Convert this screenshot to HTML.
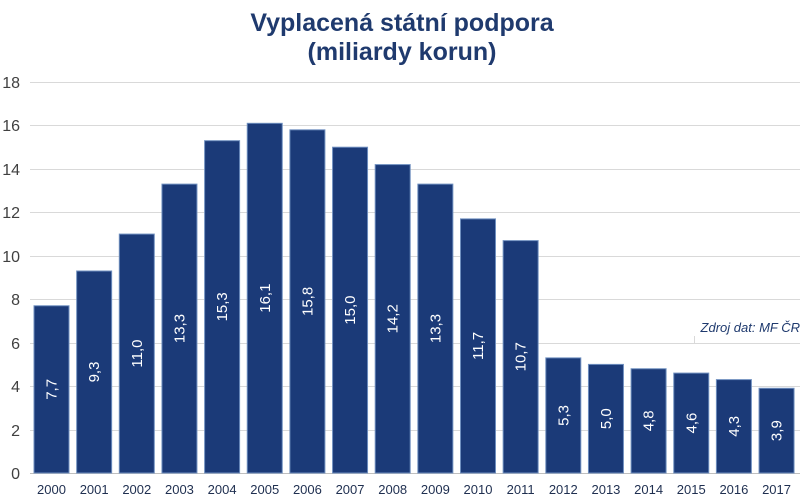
<!DOCTYPE html>
<html><head><meta charset="utf-8"><style>body{margin:0;background:#fff}svg{display:block;font-family:"Liberation Sans",sans-serif}</style></head><body>
<svg width="804" height="499" xmlns="http://www.w3.org/2000/svg">
<text x="402" y="31" text-anchor="middle" font-size="25" font-weight="bold" fill="#1f3a6e">Vyplacená státní podpora</text>
<text x="402" y="60" text-anchor="middle" font-size="25" font-weight="bold" fill="#1f3a6e">(miliardy korun)</text>
<g stroke="#d9d9d9" stroke-width="1">
<line x1="30" x2="800" y1="82.5" y2="82.5"/><line x1="30" x2="800" y1="125.5" y2="125.5"/><line x1="30" x2="800" y1="169.5" y2="169.5"/><line x1="30" x2="800" y1="212.5" y2="212.5"/><line x1="30" x2="800" y1="256.5" y2="256.5"/><line x1="30" x2="800" y1="299.5" y2="299.5"/><line x1="30" x2="800" y1="343.5" y2="343.5"/><line x1="30" x2="800" y1="386.5" y2="386.5"/><line x1="30" x2="800" y1="430.5" y2="430.5"/>
<line x1="694.5" x2="694.5" y1="336" y2="343"/>
</g>
<line x1="30" x2="800" y1="473.5" y2="473.5" stroke="#bfbfbf"/>
<g font-size="16" fill="#404040" text-anchor="end">
<text x="20" y="88">18</text><text x="20" y="131">16</text><text x="20" y="175">14</text><text x="20" y="218">12</text><text x="20" y="262">10</text><text x="20" y="305">8</text><text x="20" y="349">6</text><text x="20" y="392">4</text><text x="20" y="436">2</text><text x="20" y="479">0</text>
</g>
<text x="800" y="332" text-anchor="end" font-size="13" font-style="italic" fill="#1f3a6e">Zdroj dat: MF ČR</text>
<g fill="#1b3a78" stroke="#6f8fbf" stroke-width="1">
<rect x="34" y="305.76" width="35" height="167.24"/>
<rect x="76.65" y="271" width="35" height="202"/>
<rect x="119.3" y="234.08" width="35" height="238.92"/>
<rect x="161.95" y="184.12" width="35" height="288.88"/>
<rect x="204.6" y="140.68" width="35" height="332.32"/>
<rect x="247.25" y="123.31" width="35" height="349.69"/>
<rect x="289.9" y="129.82" width="35" height="343.18"/>
<rect x="332.55" y="147.2" width="35" height="325.8"/>
<rect x="375.2" y="164.58" width="35" height="308.42"/>
<rect x="417.85" y="184.12" width="35" height="288.88"/>
<rect x="460.5" y="218.88" width="35" height="254.12"/>
<rect x="503.15" y="240.6" width="35" height="232.4"/>
<rect x="545.8" y="357.88" width="35" height="115.12"/>
<rect x="588.45" y="364.4" width="35" height="108.6"/>
<rect x="631.1" y="368.74" width="35" height="104.26"/>
<rect x="673.75" y="373.09" width="35" height="99.91"/>
<rect x="716.4" y="379.6" width="35" height="93.4"/>
<rect x="759.05" y="388.29" width="35" height="84.71"/>
</g>
<g font-size="15" fill="#fff" text-anchor="middle">
<text transform="translate(56.5,389.38) rotate(-90)">7,7</text>
<text transform="translate(99.15,372) rotate(-90)">9,3</text>
<text transform="translate(141.8,353.54) rotate(-90)">11,0</text>
<text transform="translate(184.45,328.56) rotate(-90)">13,3</text>
<text transform="translate(227.1,306.84) rotate(-90)">15,3</text>
<text transform="translate(269.75,298.16) rotate(-90)">16,1</text>
<text transform="translate(312.4,301.41) rotate(-90)">15,8</text>
<text transform="translate(355.05,310.1) rotate(-90)">15,0</text>
<text transform="translate(397.7,318.79) rotate(-90)">14,2</text>
<text transform="translate(440.35,328.56) rotate(-90)">13,3</text>
<text transform="translate(483,345.94) rotate(-90)">11,7</text>
<text transform="translate(525.65,356.8) rotate(-90)">10,7</text>
<text transform="translate(568.3,415.44) rotate(-90)">5,3</text>
<text transform="translate(610.95,418.7) rotate(-90)">5,0</text>
<text transform="translate(653.6,420.87) rotate(-90)">4,8</text>
<text transform="translate(696.25,423.05) rotate(-90)">4,6</text>
<text transform="translate(738.9,426.3) rotate(-90)">4,3</text>
<text transform="translate(781.55,430.65) rotate(-90)">3,9</text>
</g>
<g font-size="13" fill="#1f2f50" text-anchor="middle">
<text x="51.5" y="494">2000</text><text x="94.15" y="494">2001</text><text x="136.8" y="494">2002</text><text x="179.45" y="494">2003</text><text x="222.1" y="494">2004</text><text x="264.75" y="494">2005</text><text x="307.4" y="494">2006</text><text x="350.05" y="494">2007</text><text x="392.7" y="494">2008</text><text x="435.35" y="494">2009</text><text x="478" y="494">2010</text><text x="520.65" y="494">2011</text><text x="563.3" y="494">2012</text><text x="605.95" y="494">2013</text><text x="648.6" y="494">2014</text><text x="691.25" y="494">2015</text><text x="733.9" y="494">2016</text><text x="776.55" y="494">2017</text>
</g>
</svg>
</body></html>
